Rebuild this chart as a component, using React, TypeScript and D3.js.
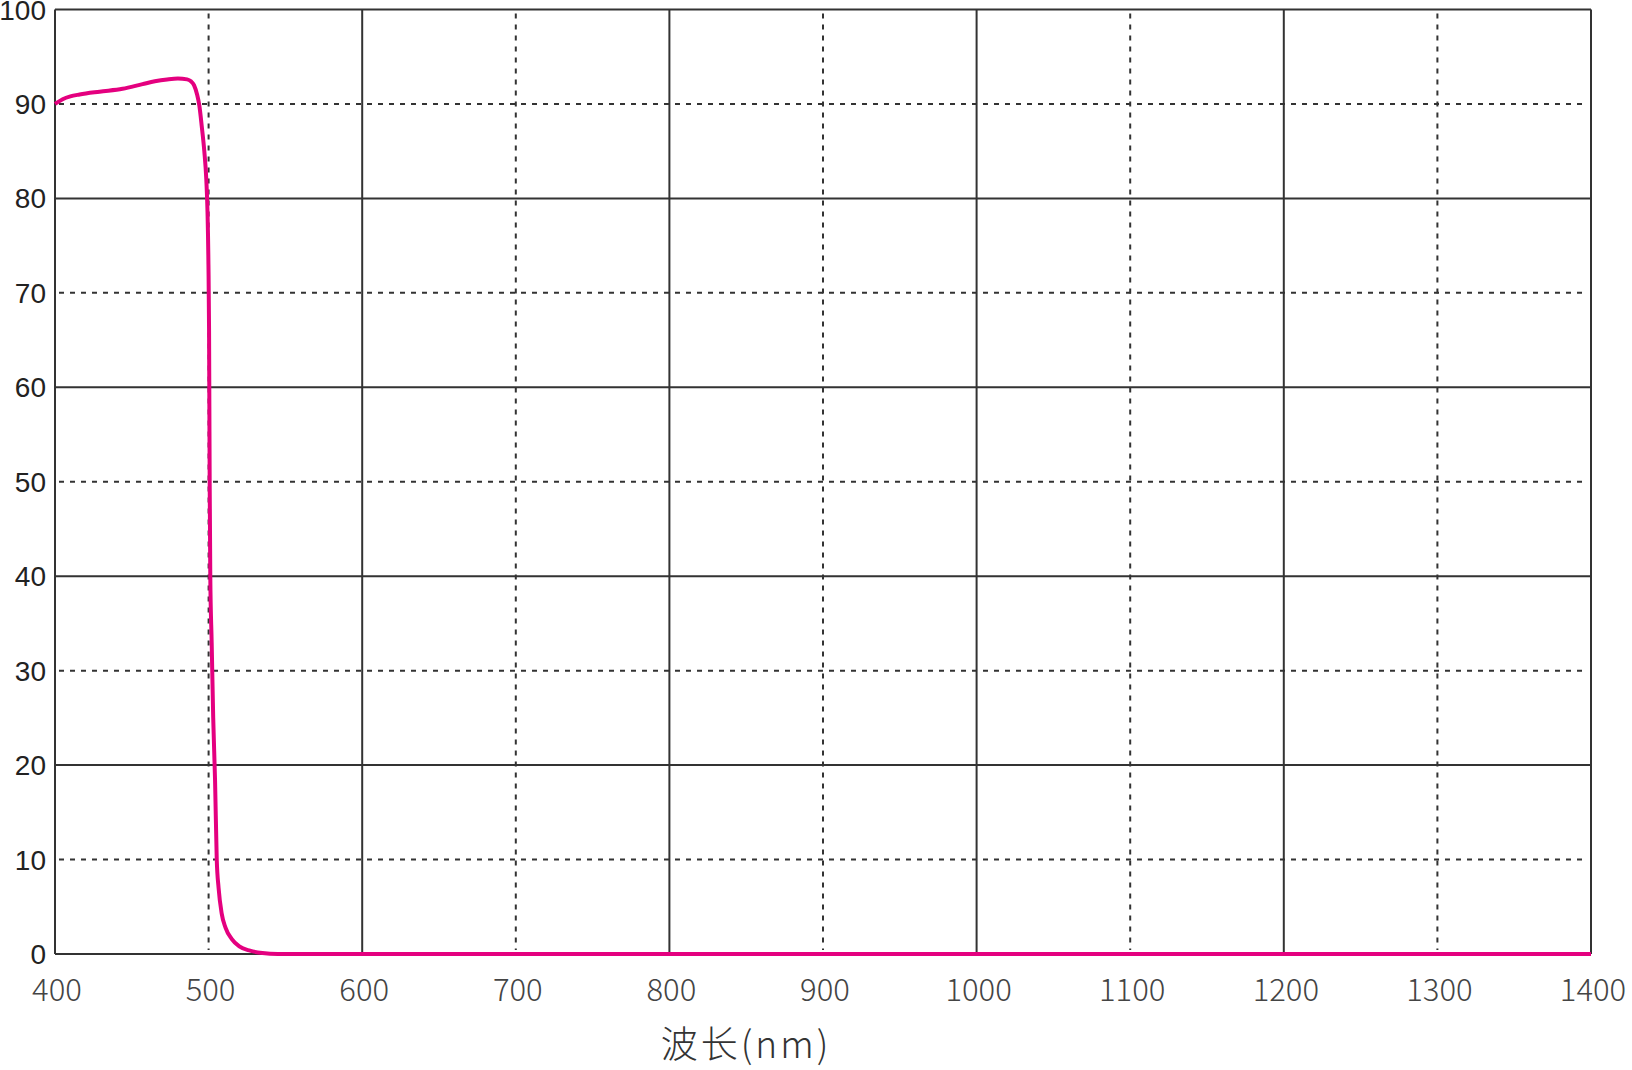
import React, { useEffect, useRef } from 'react';
import * as d3 from 'd3';

// transmittance curve
const wavelengths = [400, 405, 410, 416, 429, 444, 457, 465, 473, 480, 486, 488.5, 490.5, 492.5, 494, 495.5, 497.2, 498.5, 499.3, 499.9, 500.3, 500.5, 500.7, 501.1, 502, 503, 504.2, 505.3, 506.5, 508.5, 511, 515, 520, 527, 535, 545, 600, 800, 1000, 1200, 1400];
const transmittance = [90.0, 90.5, 90.8, 91.0, 91.3, 91.6, 92.1, 92.4, 92.6, 92.7, 92.6, 92.4, 92.0, 91.0, 89.8, 87.7, 85, 82, 78.5, 73, 66, 58, 50, 40, 33, 25, 18.4, 10, 7, 4.3, 2.8, 1.6, 0.8, 0.35, 0.1, 0, 0, 0, 0, 0, 0];

const xTicks = [400, 500, 600, 700, 800, 900, 1000, 1100, 1200, 1300, 1400];
const yTicks = [0, 10, 20, 30, 40, 50, 60, 70, 80, 90, 100];
const xTitle = '波长(nm)';

const W = 1632;
const H = 1070;

export default function App() {
  const svgRef = useRef<SVGSVGElement>(null);

  useEffect(() => {
    if (!svgRef.current) return;
    const svg = d3.select(svgRef.current);
    svg.selectAll('*').remove();

    const left = 55, right = 1591, top = 9.5, bottom = 954;

    const x = d3.scaleLinear().domain([400, 1400]).range([left, right]);
    const y = d3.scaleLinear().domain([0, 100]).range([bottom, top]);

    const grid = svg.append('g');

    // vertical grid: solid on even hundreds, dotted on odd
    xTicks.forEach((t, i) => {
      const solid = i % 2 === 0;
      grid.append('line')
        .attr('x1', x(t)).attr('x2', x(t))
        .attr('y1', solid ? y(100) : y(100) + 4)
        .attr('y2', solid ? y(0) : y(0) - 4)
        .attr('stroke', '#333')
        .attr('stroke-width', 2)
        .attr('stroke-dasharray', solid ? null : '5,6');
    });

    // horizontal grid
    yTicks.forEach((t, i) => {
      const solid = i % 2 === 0;
      grid.append('line')
        .attr('x1', solid ? x(400) : x(400) + 4)
        .attr('x2', solid ? x(1400) : x(1400) - 8)
        .attr('y1', y(t)).attr('y2', y(t))
        .attr('stroke', '#333')
        .attr('stroke-width', 2)
        .attr('stroke-dasharray', solid ? null : '5,6');
    });

    // y labels
    svg.append('g')
      .selectAll('text')
      .data(yTicks)
      .enter().append('text')
      .attr('x', 46)
      .attr('y', (d) => y(d) + 10)
      .attr('text-anchor', 'end')
      .attr('font-family', '"Liberation Sans", Arial, sans-serif')
      .attr('font-size', 28)
      .attr('fill', '#222')
      .text((d) => d);

    // x labels
    svg.append('g')
      .selectAll('text')
      .data(xTicks)
      .enter().append('text')
      .attr('x', (d) => x(d) + 2)
      .attr('y', 1001)
      .attr('text-anchor', 'middle')
      .attr('font-family', '"Noto Sans CJK SC", "Noto Sans", sans-serif')
      .attr('font-weight', 300)
      .attr('font-size', 31)
      .attr('fill', '#444')
      .text((d) => d);

    svg.append('text')
      .attr('x', 746)
      .attr('y', 1058)
      .attr('text-anchor', 'middle')
      .attr('font-family', '"Noto Sans CJK SC", sans-serif')
      .attr('font-weight', 300)
      .attr('font-size', 37)
      .attr('letter-spacing', 3)
      .attr('fill', '#333')
      .text(xTitle);

    const line = d3.line<number>()
      .x((d) => x(d))
      .y((d, i) => y(transmittance[i]))
      .curve(d3.curveMonotoneX);

    svg.append('path')
      .attr('d', line(wavelengths))
      .attr('fill', 'none')
      .attr('stroke', '#e4007f')
      .attr('stroke-width', 4)
      .attr('stroke-linejoin', 'round');
  }, []);

  return (
    <svg
      ref={svgRef}
      width={W}
      height={H}
      style={{ position: 'absolute', left: 0, top: 0, background: '#fff' }}
    />
  );
}
